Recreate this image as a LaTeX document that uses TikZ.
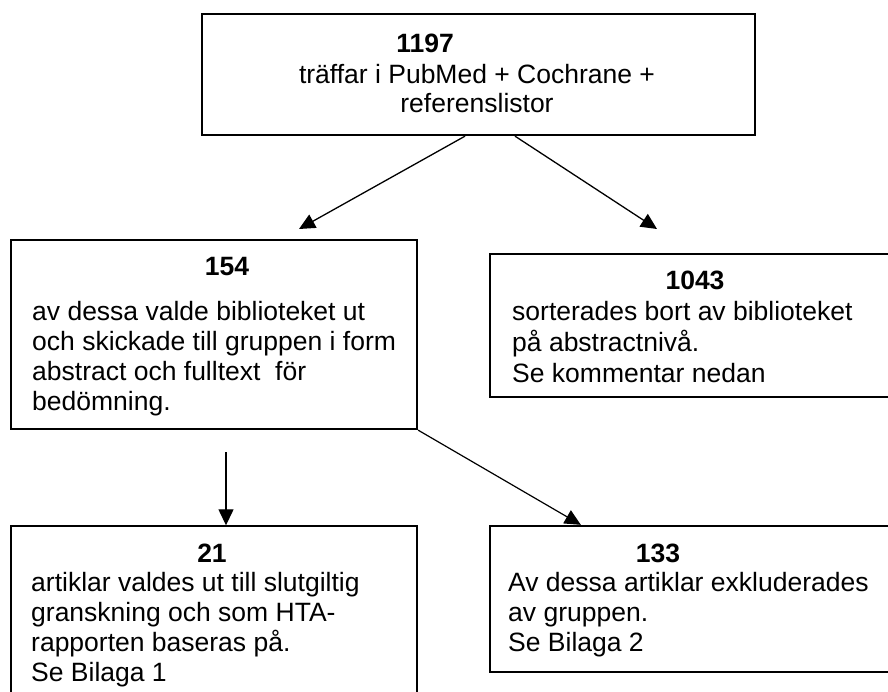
\documentclass[tikz,border=0pt]{standalone}
\usepackage{fontspec}
\setmainfont{Liberation Sans}
\usetikzlibrary{arrows.meta}
\tikzset{
  box/.style={draw=black, line width=2.3pt, rectangle, inner sep=0pt, fill=none},
  thinbox/.style={box, line width=1.4pt},
  txt/.style={anchor=base west, inner sep=0pt, font=\fontsize{26.5}{30.5}\selectfont},
  ttl/.style={anchor=base, inner sep=0pt, font=\fontsize{26.5}{30.5}\selectfont\bfseries},
  ctr/.style={anchor=base, inner sep=0pt, font=\fontsize{26.5}{30.5}\selectfont},
  arr/.style={line width=1.3pt, -{Triangle[length=16pt,width=15pt]}},
}
\begin{document}
\begin{tikzpicture}[x=1pt,y=-1pt]
\useasboundingbox (0,0) rectangle (888,691);
\clip (0,0) rectangle (888,691);
\fill[white] (0,0) rectangle (888,691);

% boxes
\node[box, minimum width=553pt, minimum height=121pt] (top) at (478.5,74.5) {};
\node[box, minimum width=406pt, minimum height=189pt] (b154) at (214,334.5) {};
\node[box, minimum width=410pt, minimum height=143pt] (b1043) at (695,325.5) {};
\node[thinbox, minimum width=406pt, minimum height=184pt] (b21) at (214,618) {};
\node[box, minimum width=410pt, minimum height=146pt] (b133) at (695,599) {};

% top box text
\node[ttl] (t1197) at (425,52) {1197};
\node[ctr] (t1197a) at (477,83) {träffar i PubMed + Cochrane +};
\node[ctr] (t1197b) at (477,112) {referenslistor};

% 154 box text
\node[ttl] (t154) at (227,275) {154};
\node[txt] (t154a) at (32,320) {av dessa valde biblioteket ut};
\node[txt] (t154b) at (32,350) {och skickade till gruppen i form};
\node[txt] (t154c) at (32,380) {abstract och fulltext\ \ för};
\node[txt] (t154d) at (32,410) {bedömning.};

% 1043 box text
\node[ttl] (t1043) at (695,289) {1043};
\node[txt] (t1043a) at (512,320) {sorterades bort av biblioteket};
\node[txt] (t1043b) at (512,351) {på abstractnivå.};
\node[txt] (t1043c) at (512,382) {Se kommentar nedan};

% 21 box text
\node[ttl] (t21) at (212,562) {21};
\node[txt] (t21a) at (31,591) {artiklar valdes ut till slutgiltig};
\node[txt] (t21b) at (31,621) {granskning och som HTA-};
\node[txt] (t21c) at (31,651) {rapporten baseras på.};
\node[txt] (t21d) at (31,681) {Se Bilaga 1};

% 133 box text
\node[ttl] (t133) at (658,562) {133};
\node[txt] (t133a) at (508,591) {Av dessa artiklar exkluderades};
\node[txt] (t133b) at (508,621) {av gruppen.};
\node[txt] (t133c) at (508,651) {Se Bilaga 2};

% connector end points
\coordinate (tipL) at (299,229);
\coordinate (tipR) at (657,229);
\coordinate (vstart) at (226,452);

% connectors
\draw[arr] ([xshift=-13.5pt]top.south) -- (tipL);
\draw[arr] ([xshift=36.5pt]top.south) -- (tipR);
\draw[arr] (vstart) -- ([xshift=12pt]b21.north);
\draw[arr, line width=1.2pt] (b154.south east) -- ([xshift=92pt]b133.north west);
\end{tikzpicture}
\end{document}
